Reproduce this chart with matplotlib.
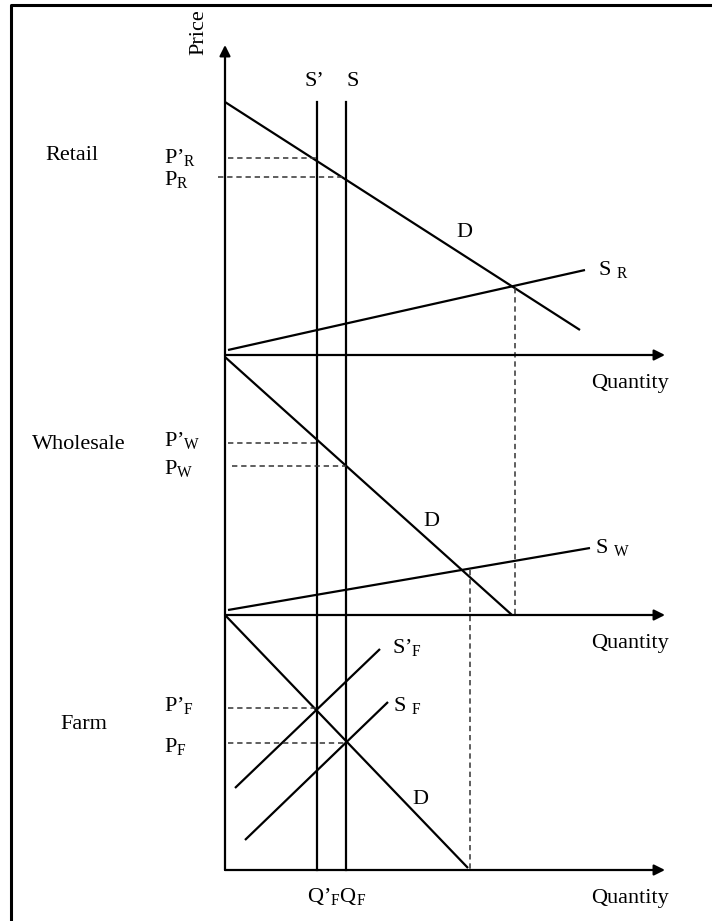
import matplotlib.pyplot as plt

plt.rcParams['font.family'] = ['Liberation Serif', 'DejaVu Serif']
plt.rcParams['mathtext.fontset'] = 'custom'
plt.rcParams['mathtext.rm'] = 'Liberation Serif'
plt.rcParams['mathtext.it'] = 'Liberation Serif:italic'

# diagram coordinates (pixel space of the original figure)
price_axis_x = 225
price_axis_top = 45
axis_levels = [355, 615, 870]          # retail, wholesale, farm quantity axes
axis_right = 665

s_prime_x = 317
s_x = 346
s_top = 102

# demand curves: (x0, y0, x1, y1)
demand_retail = [225, 102, 580, 330]
demand_wholesale = [225, 357, 512, 615]
demand_farm = [225, 615, 468, 868]

# supply curves
supply_retail = [228, 350, 585, 270]
supply_wholesale = [228, 610, 590, 548]
supply_farm_prime = [235, 788, 380, 649]
supply_farm = [245, 840, 388, 702]

# dashed price guides: (x_start, x_end, y)
price_guides = [
    (228, 317, 158),
    (218, 346, 177),
    (228, 317, 443),
    (232, 346, 466),
    (228, 317, 708),
    (228, 346, 743),
]
# dashed quantity guides: (x, y_top, y_bottom)
qty_guides = [(515, 288, 615), (470, 570, 870)]

market_labels = ['Retail', 'Wholesale', 'Farm']
market_label_pos = [(72, 156), (79, 444), (84, 724)]

price_labels = ['P’$_\\mathrm{R}$', 'P$_\\mathrm{R}$', 'P’$_\\mathrm{W}$',
                'P$_\\mathrm{W}$', 'P’$_\\mathrm{F}$', 'P$_\\mathrm{F}$']
price_label_pos = [(164, 157), (164, 180), (164, 440), (164, 468),
                   (164, 705), (164, 746)]

curve_labels = ['D', 'D', 'D', 'S $_\\mathrm{R}$', 'S $_\\mathrm{W}$',
                'S’$_\\mathrm{F}$', 'S $_\\mathrm{F}$']
curve_label_pos = [(456, 232), (423, 521), (412, 799), (598, 269),
                   (595, 547), (392, 647), (393, 705)]

fig = plt.figure(figsize=(7.12, 9.21), dpi=100)
ax = fig.add_axes([0, 0, 1, 1])
ax.set_xlim(0, 712)
ax.set_ylim(921, 0)
ax.axis('off')

# frame (top and left edges only visible)
ax.plot([11, 11, 712], [921, 5, 5], color='black', lw=2.2, solid_capstyle='butt')

lw = 1.6
fs = 16
arrow = dict(arrowstyle='-|>', lw=lw, color='black', mutation_scale=16,
             shrinkA=0, shrinkB=0)

# price axis
ax.annotate('', xy=(price_axis_x, price_axis_top), xytext=(price_axis_x, axis_levels[-1]),
            arrowprops=arrow)
# quantity axes
for y in axis_levels:
    ax.annotate('', xy=(axis_right, y), xytext=(price_axis_x, y), arrowprops=arrow)
    ax.text(axis_right + 4, y + 28, 'Quantity', fontsize=fs, ha='right', va='center')

# vertical supply lines S' and S
for x in [s_prime_x, s_x]:
    ax.plot([x, x], [s_top, axis_levels[-1]], color='black', lw=lw)
ax.text(s_prime_x - 12, 82, 'S’', fontsize=fs, ha='left', va='center')
ax.text(s_x, 82, 'S', fontsize=fs, ha='left', va='center')

for seg in [demand_retail, demand_wholesale, demand_farm,
            supply_retail, supply_wholesale, supply_farm_prime, supply_farm]:
    ax.plot([seg[0], seg[2]], [seg[1], seg[3]], color='black', lw=lw,
            solid_capstyle='butt')

for x0, x1, y in price_guides:
    ax.plot([x0, x1], [y, y], color='#333333', lw=1.1, ls=(0, (3.5, 2.5)))
for x, y0, y1 in qty_guides:
    ax.plot([x, x], [y0, y1], color='#333333', lw=1.1, ls=(0, (3.5, 2.5)))

ax.text(199, 32, 'Price', fontsize=fs, rotation=90, ha='center', va='center')

for txt, (x, y) in zip(market_labels, market_label_pos):
    ax.text(x, y, txt, fontsize=fs, ha='center', va='center')

for txt, (x, y) in zip(price_labels, price_label_pos):
    ax.text(x, y, txt, fontsize=fs, ha='left', va='center')

for txt, (x, y) in zip(curve_labels, curve_label_pos):
    ax.text(x, y, txt, fontsize=fs, ha='left', va='center')

ax.text(307, 896, 'Q’$_\\mathrm{F}$Q$_\\mathrm{F}$', fontsize=fs, ha='left', va='center')

fig.savefig('out.png', dpi=100)
